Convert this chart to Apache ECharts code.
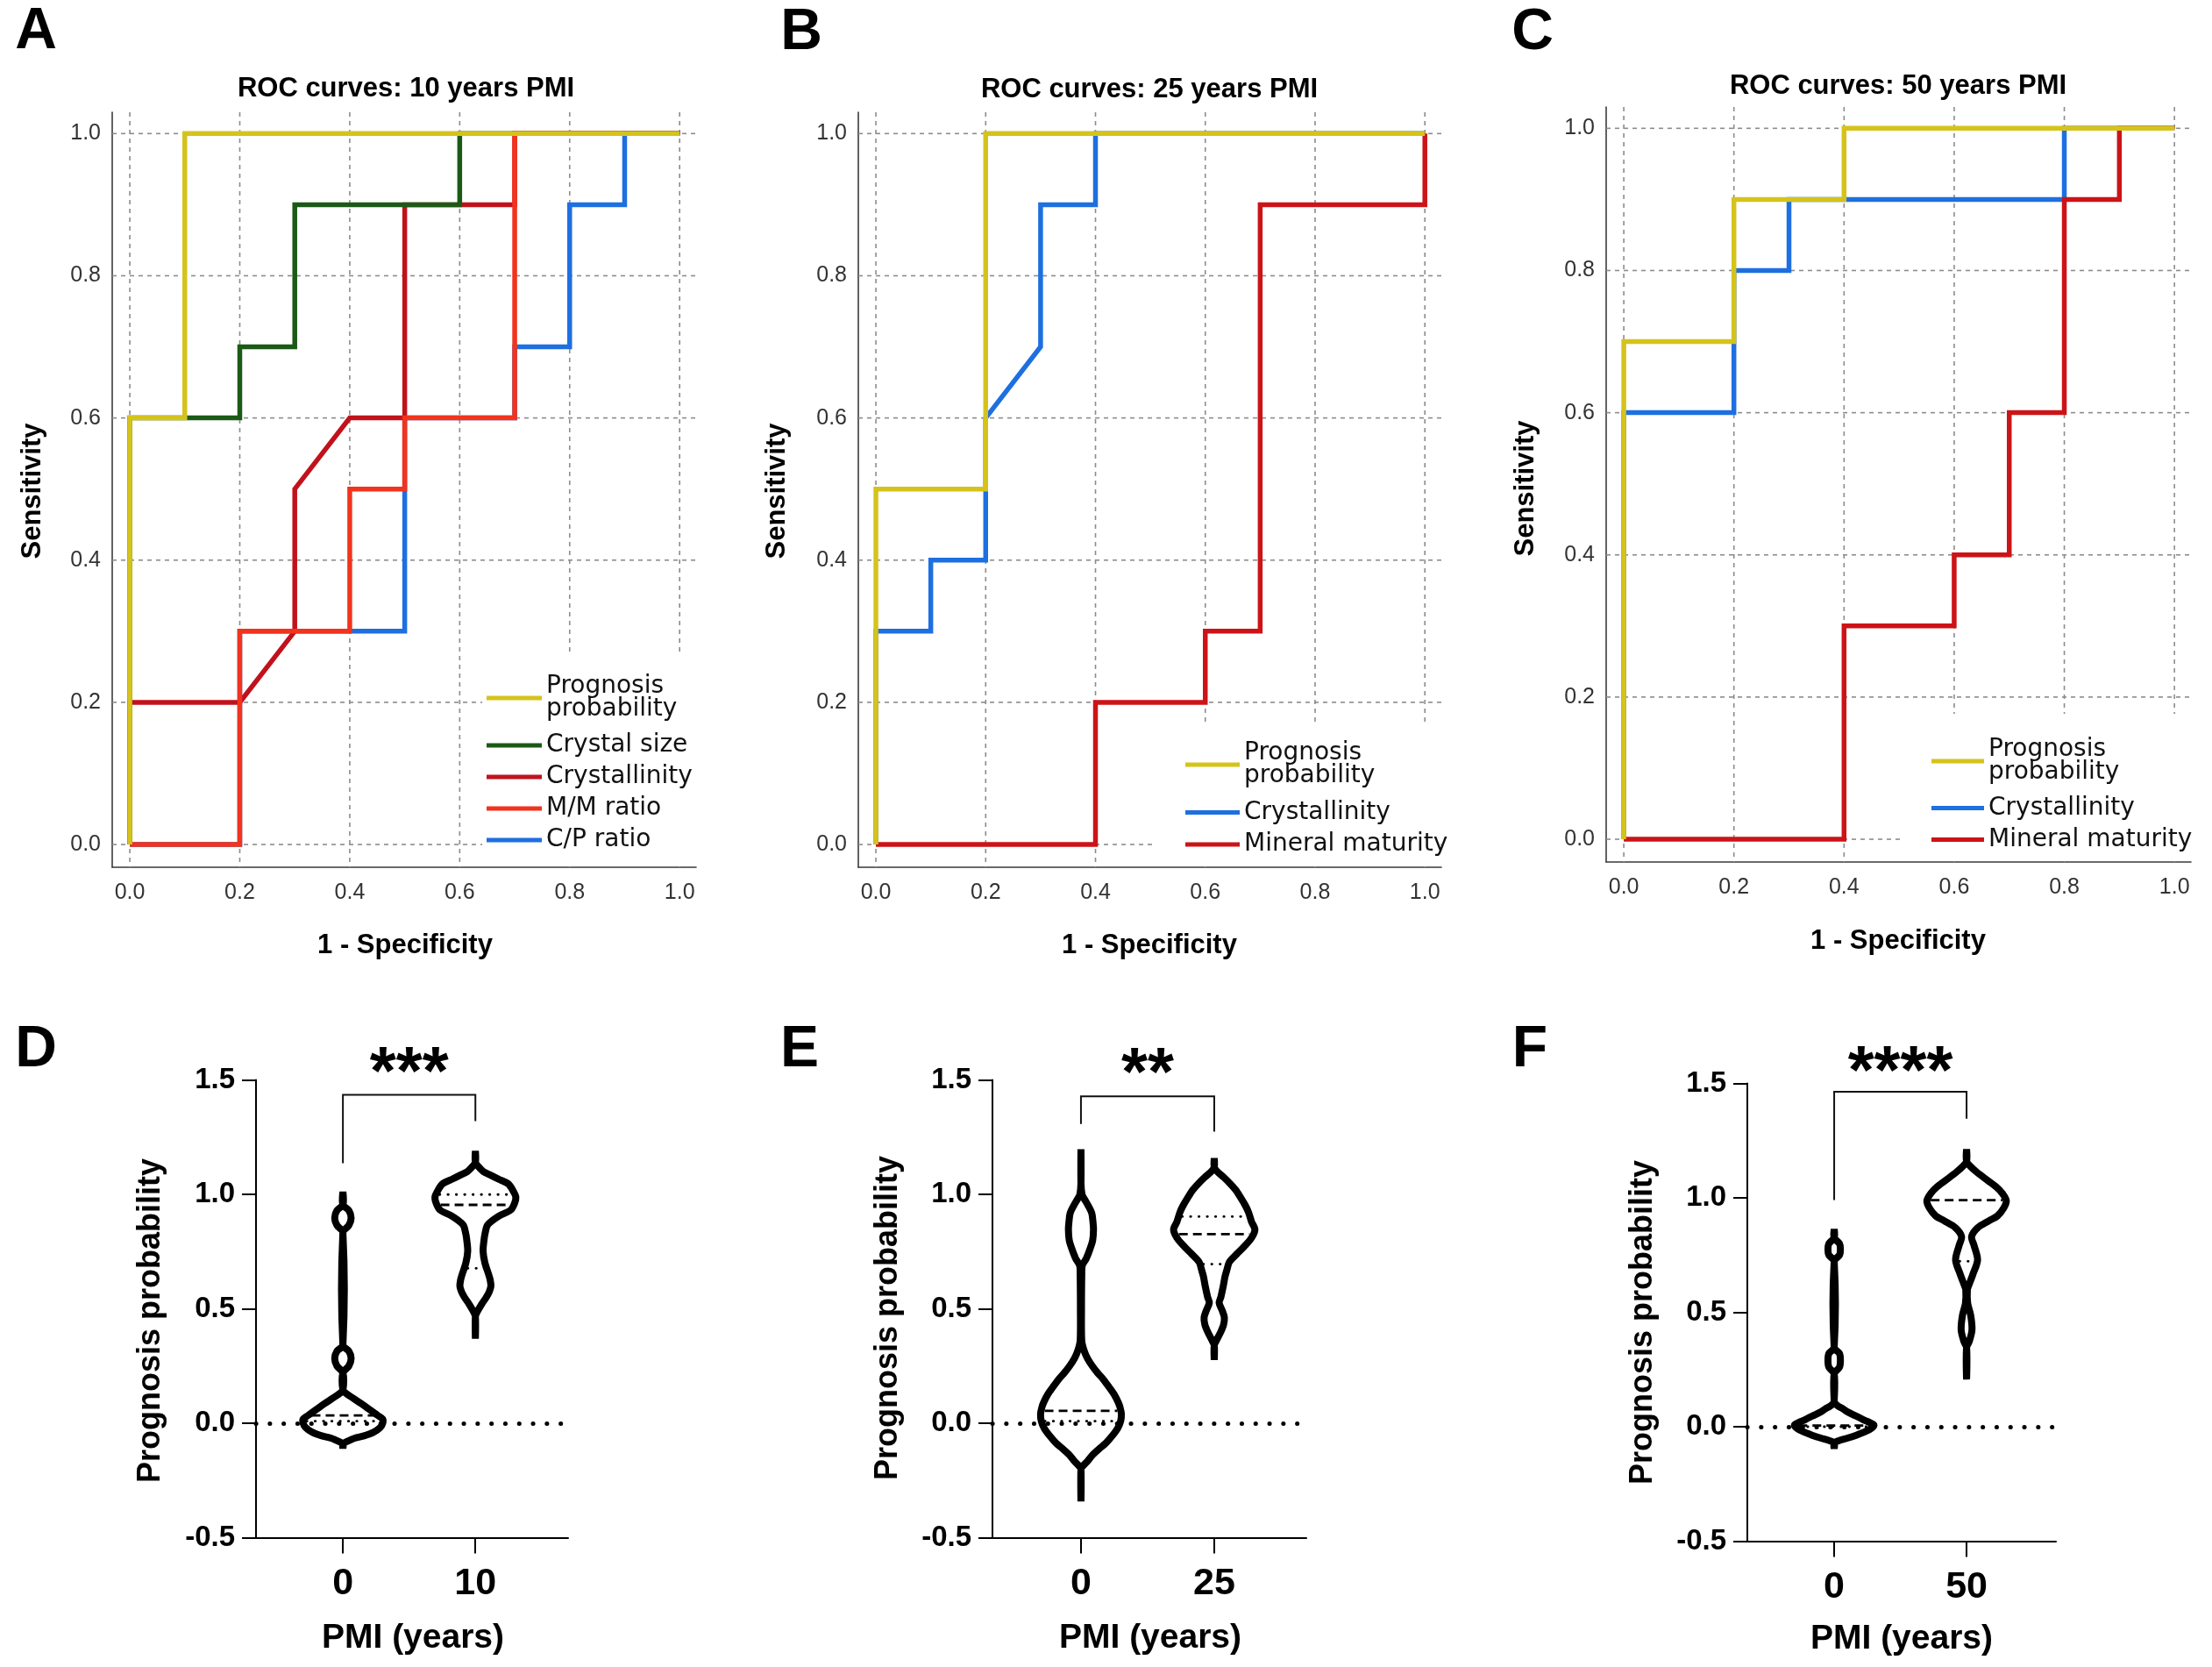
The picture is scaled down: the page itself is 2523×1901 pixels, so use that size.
<!DOCTYPE html>
<html><head><meta charset="utf-8">
<script src="https://cdn.jsdelivr.net/npm/echarts@6/dist/echarts.min.js"></script>
<style>html,body{margin:0;padding:0;background:#fff}#chart{width:2523px;height:1901px}</style>
</head><body><div id="chart"></div><script>
// ---------- ROC data ----------
const rocTicks = [0, 0.2, 0.4, 0.6, 0.8, 1.0];
const rocA_prognosis = [[0,0],[0,0.6],[0.1,0.6],[0.1,1],[1,1]];
const rocA_crystalSize = [[0,0],[0,0.6],[0.2,0.6],[0.2,0.7],[0.3,0.7],[0.3,0.9],[0.6,0.9],[0.6,1],[1,1]];
const rocA_crystallinity = [[0,0],[0,0.2],[0.2,0.2],[0.3,0.3],[0.3,0.5],[0.4,0.6],[0.5,0.6],[0.5,0.9],[0.7,0.9],[0.7,1],[1,1]];
const rocA_mmRatio = [[0,0],[0.2,0],[0.2,0.3],[0.4,0.3],[0.4,0.5],[0.5,0.5],[0.5,0.6],[0.7,0.6],[0.7,1],[1,1]];
const rocA_cpRatio = [[0,0],[0.2,0],[0.2,0.3],[0.5,0.3],[0.5,0.6],[0.7,0.6],[0.7,0.7],[0.8,0.7],[0.8,0.9],[0.9,0.9],[0.9,1],[1,1]];
const rocB_prognosis = [[0,0],[0,0.5],[0.2,0.5],[0.2,1],[1,1]];
const rocB_crystallinity = [[0,0],[0,0.3],[0.1,0.3],[0.1,0.4],[0.2,0.4],[0.2,0.6],[0.3,0.7],[0.3,0.9],[0.4,0.9],[0.4,1],[1,1]];
const rocB_mineral = [[0,0],[0.4,0],[0.4,0.2],[0.6,0.2],[0.6,0.3],[0.7,0.3],[0.7,0.9],[1,0.9],[1,1]];
const rocC_prognosis = [[0,0],[0,0.7],[0.2,0.7],[0.2,0.9],[0.4,0.9],[0.4,1],[1,1]];
const rocC_crystallinity = [[0,0],[0,0.6],[0.2,0.6],[0.2,0.8],[0.3,0.8],[0.3,0.9],[0.8,0.9],[0.8,1],[1,1]];
const rocC_mineral = [[0,0],[0.4,0],[0.4,0.3],[0.6,0.3],[0.6,0.4],[0.7,0.4],[0.7,0.6],[0.8,0.6],[0.8,0.9],[0.9,0.9],[0.9,1],[1,1]];
const rocTitles = ['ROC curves: 10 years PMI', 'ROC curves: 25 years PMI', 'ROC curves: 50 years PMI'];

// ---------- Violin data: [value, half-width in category units] ----------
const catsD = ['0', '10'];
const catsE = ['0', '25'];
const catsF = ['0', '50'];
const violinD0 = [[-0.11,0],[-0.09,0],[-0.08,0.03],[-0.065,0.09],[-0.055,0.16],[-0.04,0.23],[-0.02,0.28],[0.0,0.30],[0.018,0.30],[0.035,0.26],[0.06,0.20],[0.085,0.14],[0.11,0.075],[0.13,0.025],[0.145,0],[0.22,0],[0.25,0.045],[0.284,0.062],[0.315,0.045],[0.341,0],[0.833,0],[0.865,0.045],[0.897,0.062],[0.93,0.045],[0.954,0],[1.011,0]];
const violinD1 = [[0.369,0],[0.465,0],[0.484,0.011],[0.522,0.049],[0.548,0.08],[0.575,0.105],[0.599,0.117],[0.625,0.112],[0.65,0.10],[0.70,0.072],[0.752,0.058],[0.80,0.065],[0.829,0.073],[0.867,0.093],[0.905,0.177],[0.931,0.265],[0.96,0.295],[0.989,0.305],[1.02,0.28],[1.046,0.248],[1.065,0.18],[1.084,0.115],[1.10,0.06],[1.123,0.02],[1.14,0],[1.19,0]];
const violinE0 = [[-0.342,0],[-0.20,0],[-0.189,0.011],[-0.165,0.05],[-0.138,0.088],[-0.11,0.14],[-0.087,0.187],[-0.055,0.235],[-0.023,0.275],[0.01,0.298],[0.041,0.303],[0.07,0.293],[0.092,0.279],[0.125,0.25],[0.156,0.213],[0.19,0.17],[0.22,0.125],[0.25,0.085],[0.284,0.048],[0.32,0.022],[0.36,0.006],[0.50,0.004],[0.65,0.006],[0.689,0.01],[0.72,0.04],[0.765,0.07],[0.80,0.088],[0.846,0.094],[0.88,0.09],[0.918,0.081],[0.95,0.055],[0.98,0.025],[1.0,0.008],[1.05,0],[1.197,0]];
const violinE1 = [[0.277,0],[0.34,0],[0.36,0.015],[0.398,0.048],[0.43,0.07],[0.462,0.076],[0.495,0.058],[0.526,0.037],[0.552,0.05],[0.60,0.068],[0.641,0.081],[0.67,0.095],[0.705,0.114],[0.74,0.17],[0.769,0.22],[0.81,0.28],[0.846,0.305],[0.88,0.28],[0.922,0.257],[0.955,0.23],[0.986,0.198],[1.02,0.16],[1.05,0.114],[1.075,0.07],[1.101,0.02],[1.12,0],[1.158,0]];
const violinF0 = [[-0.095,0],[-0.072,0],[-0.062,0.03],[-0.05,0.10],[-0.037,0.167],[-0.02,0.24],[-0.005,0.285],[0.008,0.30],[0.018,0.27],[0.027,0.233],[0.04,0.19],[0.052,0.144],[0.065,0.10],[0.078,0.067],[0.09,0.03],[0.103,0.005],[0.11,0],[0.231,0],[0.26,0.04],[0.289,0.047],[0.32,0.04],[0.346,0],[0.723,0],[0.75,0.04],[0.774,0.047],[0.80,0.04],[0.825,0],[0.863,0]];
const violinF1 = [[0.206,0],[0.347,0],[0.372,0.02],[0.423,0.041],[0.487,0.031],[0.54,0.008],[0.60,0.006],[0.615,0.015],[0.666,0.048],[0.729,0.083],[0.793,0.056],[0.831,0.038],[0.869,0.083],[0.90,0.17],[0.921,0.233],[0.955,0.28],[0.987,0.30],[1.02,0.27],[1.049,0.222],[1.08,0.15],[1.112,0.078],[1.14,0.025],[1.16,0],[1.212,0]];
const linesD0 = [[0.034,'median'],[0.009,'quartile']];
const linesD1 = [[0.999,'quartile'],[0.954,'median'],[0.677,'quartile']];
const linesE0 = [[0.054,'median'],[0.009,'quartile']];
const linesE1 = [[0.903,'quartile'],[0.826,'median'],[0.695,'quartile']];
const linesF0 = [[0.005,'median'],[0.0,'quartile']];
const linesF1 = [[0.99,'median'],[0.723,'quartile']];
const bracketD = [[0,1.136],[0,1.435],[1,1.435],[1,1.32]];
const bracketE = [[0,1.307],[0,1.428],[1,1.428],[1,1.274]];
const bracketF = [[0,0.99],[0,1.464],[1,1.464],[1,1.346]];
const starsD = ['***', 0.5, 1.52];
const starsE = ['**', 0.5, 1.513];
const starsF = ['****', 0.5, 1.536];

// ---------- styling ----------
const SANS = 'Arial, "Liberation Sans", Helvetica, sans-serif';
const WIDE = '"DejaVu Sans", Verdana, sans-serif';
const C = { yellow:'#D5C31C', green:'#1B5A16', dred:'#C1121C', red:'#F2331D', blue:'#1E6FE0', mred:'#CC1418' };

const grids = [
  {left:128, top:128, width:666, height:861},
  {left:979, top:128, width:665, height:861},
  {left:1832, top:122, width:667, height:861},
  {left:292, top:1231.5, width:356, height:522},
  {left:1132, top:1231.5, width:358, height:522},
  {left:1993, top:1235.5, width:352, height:522}
];

const xAxes = [], yAxes = [];
for (let i = 0; i < 3; i++) {
  xAxes.push({gridIndex:i, type:'value', min:-0.032, max:1.03,
    axisLine:{onZero:false, lineStyle:{color:'#3a3a3a', width:1.6}}, axisTick:{show:false}, splitLine:{show:false},
    axisLabel:{customValues:rocTicks, formatter:v=>v.toFixed(1), fontSize:25, color:'#333', margin:17, fontFamily:SANS}});
  yAxes.push({gridIndex:i, type:'value', min:-0.032, max:1.03,
    axisLine:{show:true, onZero:false, lineStyle:{color:'#3a3a3a', width:1.6}}, axisTick:{show:false}, splitLine:{show:false},
    axisLabel:{customValues:rocTicks, formatter:v=>v.toFixed(1), fontSize:25, color:'#333', margin:13, fontFamily:SANS}});
}
const vRanges = [[-0.656,1.70,catsD],[-0.664,1.691,catsE],[-0.656,1.675,catsF]];
vRanges.forEach((r, k) => {
  const i = k + 3;
  xAxes.push({gridIndex:i, type:'value', min:r[0], max:r[1],
    axisLine:{onZero:false, lineStyle:{color:'#000', width:2}},
    axisTick:{show:true, customValues:[0,1], length:18, lineStyle:{color:'#000', width:2}},
    splitLine:{show:false},
    axisLabel:{customValues:[0,1], formatter:v=>r[2][Math.round(v)], fontSize:43, fontWeight:'bold', color:'#000', margin:31, fontFamily:SANS}});
  yAxes.push({gridIndex:i, type:'value', min:-0.5, max:1.5, interval:0.5,
    axisLine:{show:true, onZero:false, lineStyle:{color:'#000', width:2}},
    axisTick:{show:true, length:16, lineStyle:{color:'#000', width:2}},
    splitLine:{show:false},
    axisLabel:{formatter:v=>v.toFixed(1), fontSize:33, fontWeight:'bold', color:'#000', margin:24, fontFamily:SANS}});
});

function rocGridSeries(idx) {
  return {type:'custom', xAxisIndex:idx, yAxisIndex:idx, z:1, silent:true,
    data: rocTicks.map(t => [t, t]), encode:{x:0, y:1},
    renderItem(params, api) {
      const cs = params.coordSys;
      const p = api.coord([api.value(0), api.value(1)]);
      const st = {stroke:'#8c8c8c', lineWidth:1.6, lineDash:[5,5]};
      return {type:'group', children:[
        {type:'line', shape:{x1:p[0], y1:cs.y, x2:p[0], y2:cs.y+cs.height}, style:st},
        {type:'line', shape:{x1:cs.x, y1:p[1], x2:cs.x+cs.width, y2:p[1]}, style:st}
      ]};
    }};
}
function rocLine(idx, name, data, color) {
  return {type:'line', name, xAxisIndex:idx, yAxisIndex:idx, data, symbol:'none', showSymbol:false, z:2,
    lineStyle:{color, width:5.5, join:'miter', cap:'butt'}, itemStyle:{color}, silent:true};
}
function hwAt(prof, v) {
  for (let i = 0; i < prof.length - 1; i++) {
    const a = prof[i], b = prof[i+1];
    if (v >= a[0] && v <= b[0]) return b[0] === a[0] ? a[1] : a[1] + (b[1]-a[1]) * (v - a[0]) / (b[0]-a[0]);
  }
  return 0;
}
function violinSeries(idx, violins) {
  return {type:'custom', xAxisIndex:idx, yAxisIndex:idx, z:3, silent:true,
    data: violins.map(v => [v.cat, v.profile[0][0]]), encode:{x:0, y:1},
    renderItem(params, api) {
      const vi = violins[params.dataIndex];
      const c = vi.cat, prof = vi.profile;
      const right = prof.map(p => api.coord([c + p[1], p[0]]));
      const left = prof.slice(1, -1).reverse().map(p => api.coord([c - p[1], p[0]]));
      const children = [{type:'polygon', shape:{points:right.concat(left), smooth:0.3},
        style:{fill:'none', stroke:'#000', lineWidth:8, lineJoin:'bevel'}}];
      vi.lines.forEach(([v, kind]) => {
        const hw = hwAt(prof, v);
        const p1 = api.coord([c - hw, v]), p2 = api.coord([c + hw, v]);
        const med = kind === 'median';
        children.push({type:'line', z2:5, shape:{x1:p1[0]+4, y1:p1[1], x2:p2[0]-4, y2:p2[1]},
          style:{stroke:'#000', lineWidth:2.8, lineDash: med ? [10,6] : [0.5,9], lineCap: med ? 'butt' : 'round'}});
      });
      return {type:'group', children};
    }};
}
function bracketSeries(idx, data) {
  return {type:'line', xAxisIndex:idx, yAxisIndex:idx, data, symbol:'none', showSymbol:false, z:4, silent:true,
    lineStyle:{color:'#111', width:2, join:'miter'},
    markLine:{silent:true, symbol:'none', label:{show:false},
      lineStyle:{color:'#000', width:5, type:[0.1,15.7], cap:'round'}, data:[{yAxis:0}]}};
}
function starsSeries(idx, s) {
  return {type:'custom', xAxisIndex:idx, yAxisIndex:idx, z:4, silent:true, clip:false,
    data:[[s[1], s[2]]], encode:{x:0, y:1},
    renderItem(params, api) {
      const p = api.coord([api.value(0), api.value(1)]);
      return {type:'text', x:p[0], y:p[1], style:{text:s[0], font:'bold 77px ' + SANS, fill:'#000', align:'center', verticalAlign:'middle'}};
    }};
}

const series = [
  rocGridSeries(0), rocGridSeries(1), rocGridSeries(2),
  rocLine(0, 'C/P ratio', rocA_cpRatio, C.blue),
  rocLine(0, 'Crystallinity', rocA_crystallinity, C.dred),
  rocLine(0, 'Crystal size', rocA_crystalSize, C.green),
  rocLine(0, 'M/M ratio', rocA_mmRatio, C.red),
  rocLine(0, 'Prognosis\nprobability', rocA_prognosis, C.yellow),
  rocLine(1, 'Mineral maturity', rocB_mineral, C.mred),
  rocLine(1, 'Crystallinity', rocB_crystallinity, C.blue),
  rocLine(1, 'Prognosis\nprobability', rocB_prognosis, C.yellow),
  rocLine(2, 'Crystallinity', rocC_crystallinity, C.blue),
  rocLine(2, 'Mineral maturity', rocC_mineral, C.mred),
  rocLine(2, 'Prognosis\nprobability', rocC_prognosis, C.yellow),
  bracketSeries(3, bracketD), bracketSeries(4, bracketE), bracketSeries(5, bracketF),
  violinSeries(3, [{cat:0, profile:violinD0, lines:linesD0},{cat:1, profile:violinD1, lines:linesD1}]),
  violinSeries(4, [{cat:0, profile:violinE0, lines:linesE0},{cat:1, profile:violinE1, lines:linesE1}]),
  violinSeries(5, [{cat:0, profile:violinF0, lines:linesF0},{cat:1, profile:violinF1, lines:linesF1}]),
  starsSeries(3, starsD), starsSeries(4, starsE), starsSeries(5, starsF)
];

function legendItem(name, color) { return {name, itemStyle:{color}, lineStyle:{color}}; }
function mkLegend(left, top, items, lineHeight, gap, w) {
  return {left, top, orient:'vertical', icon:'rect', itemWidth:w, itemHeight:5, itemGap:gap, selectedMode:false, z:10,
    padding:0, data:items, textStyle:{fontFamily:WIDE, fontSize:28, color:'#111', lineHeight}};
}
const legends = [
  mkLegend(555, 769, [legendItem('Prognosis\nprobability', C.yellow)], 26, 0, 63),
  mkLegend(555, 835, [legendItem('Crystal size', C.green), legendItem('Crystallinity', C.dred), legendItem('M/M ratio', C.red), legendItem('C/P ratio', C.blue)], 30, 6, 63),
  mkLegend(1352, 845, [legendItem('Prognosis\nprobability', C.yellow)], 26, 0, 62),
  mkLegend(1352, 911.5, [legendItem('Crystallinity', C.blue), legendItem('Mineral maturity', C.mred)], 30, 6.5, 62),
  mkLegend(2203, 841, [legendItem('Prognosis\nprobability', C.yellow)], 26, 0, 60),
  mkLegend(2203, 906.4, [legendItem('Crystallinity', C.blue), legendItem('Mineral maturity', C.mred)], 30, 6, 60)
];

function txt(text, x, y, size, opts) {
  opts = opts || {};
  return {type:'text', x, y, rotation: opts.rot || 0, z:20,
    style:{text, font:(opts.weight||'bold') + ' ' + size + 'px ' + (opts.family||SANS), fill: opts.fill||'#000', align:'center', verticalAlign:'middle'}};
}
const graphics = [
  {type:'rect', z:3, shape:{x:550, y:746, width:243, height:240}, style:{fill:'#fff'}},
  {type:'rect', z:3, shape:{x:1316, y:825, width:327, height:162}, style:{fill:'#fff'}},
  {type:'rect', z:3, shape:{x:2170, y:814, width:328, height:168}, style:{fill:'#fff'}},
  txt('A', 41, 37, 66), txt('B', 914, 38, 66), txt('C', 1748, 38, 66),
  txt('D', 41, 1198, 66), txt('E', 912, 1198, 66), txt('F', 1745, 1198, 66),
  txt(rocTitles[0], 463, 101, 31), txt(rocTitles[1], 1311, 102, 31), txt(rocTitles[2], 2165, 98, 31),
  txt('1 - Specificity', 462, 1078, 31), txt('1 - Specificity', 1311, 1078, 31), txt('1 - Specificity', 2165, 1073, 31),
  txt('Sensitivity', 37, 560, 31, {rot:Math.PI/2}), txt('Sensitivity', 886, 560, 31, {rot:Math.PI/2}), txt('Sensitivity', 1740, 557, 31, {rot:Math.PI/2}),
  txt('Prognosis probability', 172, 1506, 36, {rot:Math.PI/2}), txt('Prognosis probability', 1013, 1503, 36, {rot:Math.PI/2}), txt('Prognosis probability', 1874, 1508, 36, {rot:Math.PI/2}),
  txt('PMI (years)', 471, 1868, 39), txt('PMI (years)', 1312, 1868, 39), txt('PMI (years)', 2169, 1869, 39)
];

const chart = echarts.init(document.getElementById('chart'), null, {renderer:'canvas'});
chart.setOption({
  backgroundColor:'#fff', animation:false,
  grid: grids, xAxis: xAxes, yAxis: yAxes, legend: legends, series, graphic: graphics
});
</script></body></html>
